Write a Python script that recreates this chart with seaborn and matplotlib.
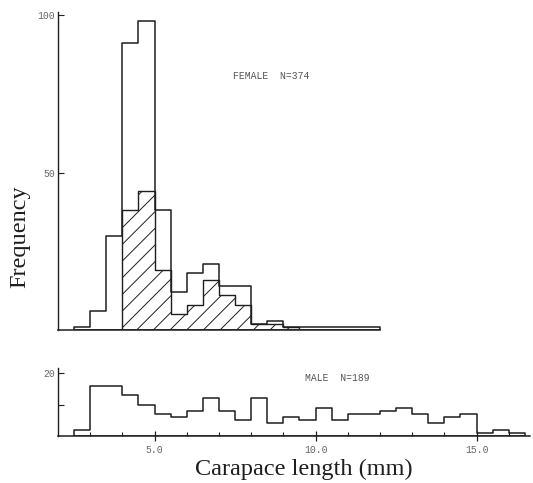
import matplotlib
matplotlib.use('Agg')
import matplotlib.pyplot as plt
import numpy as np
import pandas as pd
import seaborn as sns

# Data (counts per 0.5 mm carapace-length class)
female_left_edges = [2.5, 3.0, 3.5, 4.0, 4.5, 5.0, 5.5, 6.0, 6.5, 7.0,
                     7.5, 8.0, 8.5, 9.0, 9.5, 10.0, 10.5, 11.0, 11.5]
female_total = [1, 6, 30, 91, 98, 38, 12, 18, 21, 14,
                14, 2, 3, 1, 1, 1, 1, 1, 1]
female_hatched = [0, 0, 0, 38, 44, 19, 5, 8, 16, 11,
                  8, 2, 2, 1, 0, 0, 0, 0, 0]

male_left_edges = [2.5, 3.0, 3.5, 4.0, 4.5, 5.0, 5.5, 6.0, 6.5, 7.0,
                   7.5, 8.0, 8.5, 9.0, 9.5, 10.0, 10.5, 11.0, 11.5, 12.0,
                   12.5, 13.0, 13.5, 14.0, 14.5, 15.0, 15.5, 16.0]
male_counts = [2, 16, 16, 13, 10, 7, 6, 8, 12, 8,
               5, 12, 4, 6, 5, 9, 5, 7, 7, 8,
               9, 7, 4, 6, 7, 1, 2, 1]

x_ticks = [5.0, 10.0, 15.0]
x_tick_labels = ['5.0', '10.0', '15.0']
female_label = 'FEMALE  N=374'
male_label = 'MALE  N=189'

sns.set_style('ticks')
plt.rcParams['font.family'] = ['Liberation Serif', 'DejaVu Serif']
plt.rcParams['hatch.color'] = '#222222'
plt.rcParams['hatch.linewidth'] = 0.7

ink = '#1e1e1e'
tick_font = {'family': 'Liberation Mono', 'size': 7, 'color': '#666666'}
bin_w = 0.5

df_f = pd.DataFrame({'length': np.array(female_left_edges) + bin_w / 2,
                     'total': female_total, 'hatched': female_hatched})
df_m = pd.DataFrame({'length': np.array(male_left_edges) + bin_w / 2,
                     'count': male_counts})
f_range = (female_left_edges[0], female_left_edges[-1] + bin_w)
m_range = (male_left_edges[0], male_left_edges[-1] + bin_w)

fig = plt.figure(figsize=(5.33, 4.83), dpi=100)
ax1 = fig.add_axes([0.1088, 0.3168, 0.885, 0.6584])
ax2 = fig.add_axes([0.1088, 0.0973, 0.885, 0.1408])

# Female: hatched part and total outline
sns.histplot(data=df_f, x='length', weights='hatched', binwidth=bin_w,
             binrange=f_range, element='step', fill=True, color=ink,
             facecolor='none', edgecolor=ink, hatch='//', linewidth=1.0, ax=ax1)
sns.histplot(data=df_f, x='length', weights='total', binwidth=bin_w,
             binrange=f_range, element='step', fill=True, color=ink,
             facecolor='none', edgecolor=ink, linewidth=1.1, ax=ax1)

# Male
sns.histplot(data=df_m, x='length', weights='count', binwidth=bin_w,
             binrange=m_range, element='step', fill=True, color=ink,
             facecolor='none', edgecolor=ink, linewidth=1.1, ax=ax2)

for ax in (ax1, ax2):
    ax.set_xlim(2.0, 16.65)
    ax.set_xlabel('')
    ax.set_ylabel('')
    sns.despine(ax=ax)
    ax.spines['left'].set_color(ink)
    ax.spines['bottom'].set_color(ink)
    ax.spines['left'].set_linewidth(1.0)
    ax.spines['bottom'].set_linewidth(1.1)

# top panel axes
ax1.set_ylim(0, 101)
ax1.spines['bottom'].set_bounds(2.0, 12.0)
ax1.set_xticks([])
ax1.set_yticks([50, 100])
ax1.set_yticklabels(['50', '100'], fontdict=tick_font)
ax1.tick_params(axis='y', direction='in', length=4, width=0.8, color=ink, pad=2)

# bottom panel axes
ax2.set_ylim(0, 21.6)
ax2.set_yticks([10, 20])
ax2.set_yticklabels(['', '20'], fontdict=tick_font)
ax2.tick_params(axis='y', direction='in', length=4, width=0.8, color=ink, pad=2)
ax2.set_xticks(x_ticks)
ax2.set_xticklabels(x_tick_labels, fontdict=tick_font)
ax2.set_xticks(np.arange(3, 17, 1), minor=True)
ax2.tick_params(axis='x', which='major', direction='inout', length=7, width=0.9,
                color=ink, pad=3)
ax2.tick_params(axis='x', which='minor', direction='in', length=3, width=0.8,
                color=ink)

# text
fig.text(0.437, 0.843, female_label, fontsize=7, color='#555555',
         family='Liberation Mono', ha='left', va='center')
fig.text(0.572, 0.217, male_label, fontsize=7, color='#555555',
         family='Liberation Mono', ha='left', va='center')
fig.text(0.038, 0.509, 'Frequency', fontsize=17.5, color=ink,
         rotation=90, ha='center', va='center')
fig.text(0.570, 0.029, 'Carapace length (mm)', fontsize=17.5, color=ink,
         ha='center', va='center')

fig.savefig('out.png', dpi=100, facecolor='white')
